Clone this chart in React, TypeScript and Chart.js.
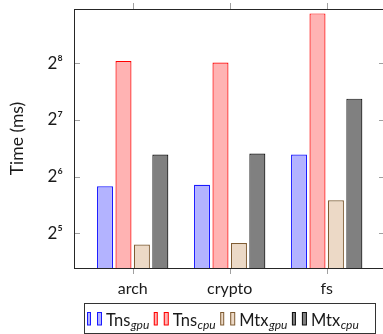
import React, { useEffect, useRef } from "react";
import { Chart, registerables } from "chart.js";
Chart.register(...registerables);

const categories = ["arch", "crypto", "fs"];
const tnsGpu = [57, 58, 84];
const tnsCpu = [263, 258, 470];
const mtxGpu = [28, 28.5, 48];
const mtxCpu = [84, 85, 166];
const yTickValues = [32, 64, 128, 256];
const yTickLabels = ["2⁵", "2⁶", "2⁷", "2⁸"];
const seriesNames = ["Tns", "Tns", "Mtx", "Mtx"];
const seriesSubs = ["gpu", "cpu", "gpu", "cpu"];
const seriesFill = ["#b3b3ff", "#ffb3b3", "#ecd9c6", "#808080"];
const seriesBorder = ["#1a1aff", "#ff0000", "#7f5c33", "#111111"];
const seriesValues = [tnsGpu, tnsCpu, mtxGpu, mtxCpu];

const FONT = "Lato, 'Open Sans', sans-serif";

const framePlugin = {
  id: "frame",
  afterDraw(chart: any) {
    const { ctx, chartArea, scales } = chart;
    const { left, right, top, bottom } = chartArea;
    const x = scales.x;
    const y = scales.y;
    ctx.save();
    const line = (x1: number, y1: number, x2: number, y2: number) => {
      ctx.beginPath();
      ctx.moveTo(x1, y1);
      ctx.lineTo(x2, y2);
      ctx.stroke();
    };
    ctx.lineWidth = 1;
    ctx.strokeStyle = "#a0a0a0";
    yTickValues.forEach((v) => {
      const py = Math.round(y.getPixelForValue(v)) + 0.5;
      line(left, py, left + 6, py);
      line(right - 6, py, right, py);
    });
    categories.forEach((_, i) => {
      const px = Math.round(x.getPixelForValue(i)) + 0.5;
      line(px, top - 6, px, top);
      line(px, bottom, px, bottom + 6);
    });
    ctx.strokeStyle = "#262626";
    ctx.strokeRect(Math.round(left) + 0.5, Math.round(top) + 0.5, Math.round(right - left), Math.round(bottom - top));

    // legend
    const boxL = 84, boxT = 303, boxR = 375, boxB = 333;
    ctx.strokeStyle = "#333";
    ctx.strokeRect(boxL + 0.5, boxT + 0.5, boxR - boxL, boxB - boxT);
    let cx = 87;
    const mainFont = `16.5px ${FONT}`;
    const subFont = `italic 12px ${FONT}`;
    seriesNames.forEach((name, i) => {
      ctx.fillStyle = seriesFill[i];
      ctx.strokeStyle = seriesBorder[i];
      ctx.fillRect(cx, 312, 3.5, 13);
      ctx.strokeRect(cx + 0.5, 312.5, 3, 12.5);
      ctx.fillRect(cx + 10, 312, 4.5, 13);
      ctx.strokeRect(cx + 10.5, 312.5, 4, 12.5);
      let tx = cx + 19;
      ctx.fillStyle = "#1a1a1a";
      ctx.textBaseline = "alphabetic";
      ctx.textAlign = "left";
      ctx.font = mainFont;
      ctx.fillText(name, tx, 326);
      tx += ctx.measureText(name).width;
      ctx.font = subFont;
      ctx.fillText(seriesSubs[i], tx + 0.5, 329);
      tx += ctx.measureText(seriesSubs[i]).width + 0.5;
      cx = tx + 4.5;
    });
    ctx.restore();
  },
};

export default function App() {
  const ref = useRef<HTMLCanvasElement | null>(null);
  useEffect(() => {
    if (!ref.current) return;
    const chart = new Chart(ref.current, {
      type: "bar",
      data: {
        datasets: seriesValues.map((vals, i) => ({
          label: seriesNames[i] + seriesSubs[i],
          data: vals.map((v, j) => ({ x: j, y: v })),
          backgroundColor: seriesFill[i],
          borderColor: seriesBorder[i],
          borderWidth: 1.2,
          categoryPercentage: 0.76,
          barPercentage: 0.87,
        })),
      },
      options: {
        responsive: false,
        animation: false,
        layout: { padding: { left: 0, right: 15, top: 9, bottom: 36 } },
        plugins: { legend: { display: false }, tooltip: { enabled: false } },
        scales: {
          x: {
            type: "linear",
            offset: false,
            min: -0.605,
            max: 2.601,
            grid: { display: false, drawTicks: false, offset: false },
            border: { display: false },
            afterBuildTicks: (s: any) => {
              s.ticks = categories.map((_, i) => ({ value: i }));
            },
            afterFit: (s: any) => {
              s.height = 30;
              s.paddingLeft = 0;
              s.paddingRight = 0;
            },
            ticks: {
              autoSkip: false,
              maxRotation: 0,
              padding: 11,
              color: "#1a1a1a",
              font: { family: FONT, size: 16 },
              callback: (v: any) => categories[v as number] ?? "",
            },
          },
          y: {
            type: "logarithmic",
            min: 21,
            max: 496,
            grid: { display: false, drawTicks: false },
            border: { display: false },
            afterBuildTicks: (s: any) => {
              s.ticks = yTickValues.map((v) => ({ value: v }));
            },
            afterFit: (s: any) => {
              s.width = 74;
              s.paddingTop = 0;
              s.paddingBottom = 0;
            },
            ticks: {
              padding: 11,
              color: "#1a1a1a",
              font: { family: FONT, size: 17 },
              callback: (v: any) => {
                const k = yTickValues.indexOf(v as number);
                return k >= 0 ? yTickLabels[k] : "";
              },
            },
            title: {
              display: true,
              text: "Time (ms)",
              color: "#1a1a1a",
              font: { family: FONT, size: 17.5 },
              padding: { top: 6.5, bottom: 0 },
            },
          },
        },
      },
      plugins: [framePlugin],
    });
    return () => chart.destroy();
  }, []);
  return (
    <div style={{ position: "absolute", left: 0, top: 0, width: 383, height: 334, overflow: "hidden", background: "#fff" }}>
      <canvas ref={ref} width={400} height={334} style={{ display: "block" }} />
    </div>
  );
}
